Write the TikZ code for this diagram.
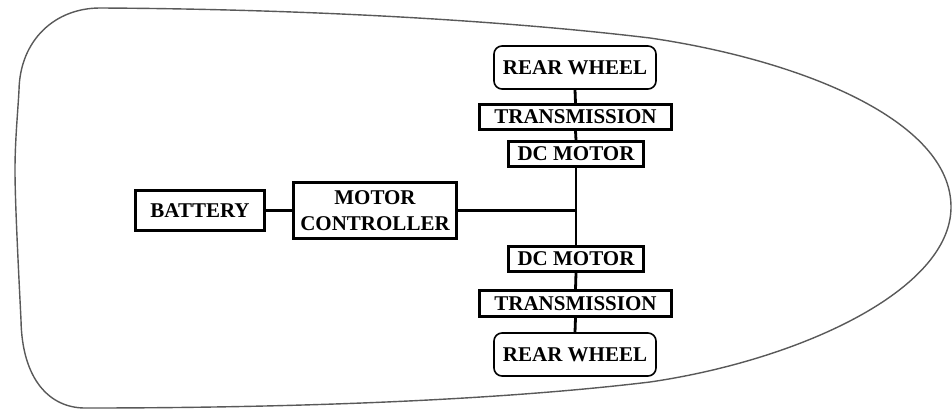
\documentclass[tikz,border=0pt]{standalone}
\usepackage{fontspec}
\setmainfont{Liberation Serif}
\begin{document}
\begin{tikzpicture}[x=1pt,y=-1pt,
  lbl/.style={font=\fontsize{21}{26}\selectfont\bfseries, align=center, inner sep=0pt},
  blk/.style={lbl, draw=black, line width=2.8pt},
  wheel/.style={lbl, draw=black, line width=1.6pt, rounded corners=8pt, minimum width=162pt, minimum height=43pt},
  conn/.style={draw=black, line width=2.8pt},
  hull/.style={draw=black!65, line width=1.4pt}]
\useasboundingbox (0,0) rectangle (952,410);
% hull outline
\draw[hull] (19,90) .. controls (20,40) and (55,8) .. (100,8)
  .. controls (300,9) and (500,20) .. (650,38)
  .. controls (800,60) and (951,120) .. (951,207)
  .. controls (951,290) and (800,360) .. (650,382)
  .. controls (500,400) and (300,408) .. (85,408)
  .. controls (50,408) and (22,380) .. (21,320)
  .. controls (18,260) and (15,200) .. (15,170)
  .. controls (15,140) and (18,110) .. (19,90) -- cycle;
% nodes
\node[wheel] (rw1) at (575,67.5) {REAR WHEEL};
\node[blk, minimum width=192pt, minimum height=25pt] (tr1) at (575.5,117) {TRANSMISSION};
\node[blk, minimum width=135pt, minimum height=25pt] (dc1) at (576,154) {DC MOTOR};
\node[blk, minimum width=135pt, minimum height=25pt] (dc2) at (576,259) {DC MOTOR};
\node[blk, minimum width=192pt, minimum height=26pt] (tr2) at (575.5,303.5) {TRANSMISSION};
\node[wheel] (rw2) at (575,354.5) {REAR WHEEL};
\node[blk, minimum width=129pt, minimum height=40pt] (bat) at (200,210.5) {BATTERY};
\node[blk, minimum width=163pt, minimum height=56pt] (mc) at (375,210.5) {MOTOR\\CONTROLLER};
% connectors
\draw[conn] (rw1.south) -- (tr1.north);
\draw[conn] (tr1.south) -- (dc1.north);
\draw[conn] (dc1.south) -- (dc2.north);
\draw[conn] (dc2.south) -- (tr2.north);
\draw[conn] (tr2.south) -- (rw2.north);
\draw[conn] (bat.east) -- (mc.west);
\draw[conn] (mc.east) -- (mc.east -| dc1.south);
\end{tikzpicture}
\end{document}
